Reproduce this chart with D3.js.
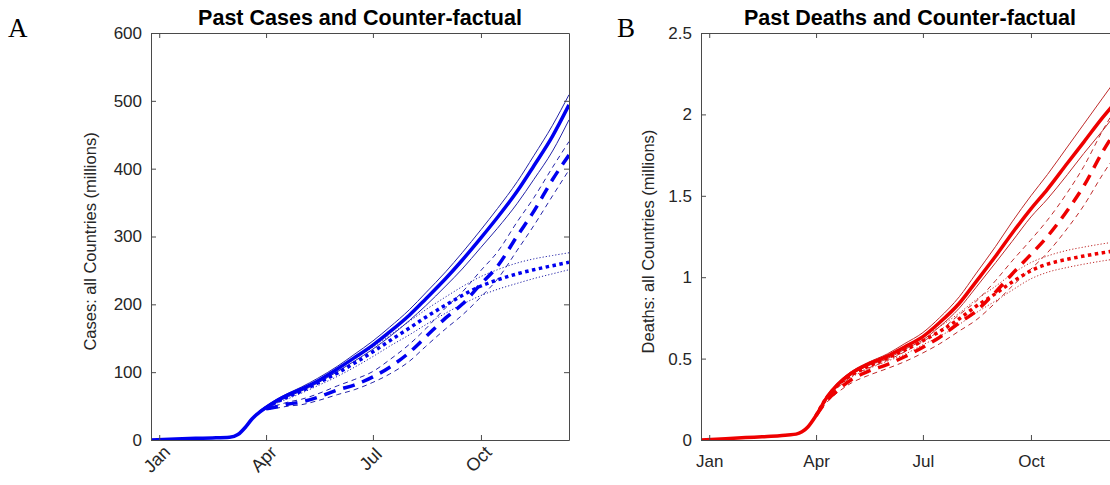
<!DOCTYPE html>
<html><head><meta charset="utf-8">
<script src="https://cdn.jsdelivr.net/npm/d3@7"></script>
<style>
body{margin:0;background:#fff;}
svg{display:block;font-family:"Liberation Sans",Arial,sans-serif;}
</style></head><body>
<svg id="chart" width="1110" height="485"></svg>
<script>
// ---------- data ----------
const dates = ["2019-12-25","2020-01-15","2020-02-01","2020-02-15","2020-03-01","2020-03-08","2020-03-15","2020-03-20","2020-03-25",
  "2020-04-01","2020-04-10","2020-04-20","2020-05-01","2020-05-15","2020-06-01","2020-06-15","2020-07-01","2020-07-15",
  "2020-08-01","2020-08-15","2020-09-01","2020-09-15","2020-10-01","2020-10-15","2020-11-01","2020-11-15","2020-12-01","2020-12-15"];
const N9 = [null,null,null,null,null,null,null,null,null];

// Cases (millions)
const casesActual   = [0,1.5,2.5,3,4,8,20,31,39, 48,58,67,75,87,105,121,140,159,184,208,238,265,298,328,367,404,448,494];
const casesActualHi = [0,1.5,2.5,3,4,8,20,32,41, 50,60,69,78,91,109,126,146,166,192,217,248,276,310,341,381,419,464,509];
const casesActualLo = [0,1.5,2.5,3,4,8,20,30,38, 46,55,64,72,84,101,116,134,152,176,198,227,252,284,312,349,384,426,472];
const casesCF1      = N9.concat([46,49,53,56,63,74,81,93,107,129,152,180,200,230,256,301,337,384,420]);
const casesCF1Hi    = N9.concat([47,51,56,60,68,80,89,101,118,141,164,195,218,250,277,322,357,402,440]);
const casesCF1Lo    = N9.concat([45,47,50,52,58,67,74,85,97,116,138,164,184,211,237,280,316,360,398]);
const casesCF2      = N9.concat([47,56,64,72,84,99,113,130,146,165,181,199,213,227,236,245,251,257,262]);
const casesCF2Hi    = N9.concat([48,58,67,75,88,104,119,137,154,175,192,211,226,241,251,261,267,272,276]);
const casesCF2Lo    = N9.concat([46,54,61,69,80,94,107,123,138,155,170,187,200,213,222,231,238,245,251]);

// Deaths (millions)
const deathsActual   = [0,0.008,0.015,0.02,0.026,0.031,0.036,0.05,0.08, 0.15,0.26,0.345,0.41,0.465,0.515,0.57,0.635,0.72,0.84,0.97,1.13,1.27,1.42,1.54,1.70,1.83,1.98,2.10];
const deathsActualHi = [0,0.008,0.015,0.02,0.026,0.031,0.036,0.05,0.085, 0.16,0.27,0.355,0.42,0.475,0.53,0.59,0.66,0.75,0.88,1.02,1.19,1.34,1.50,1.63,1.80,1.94,2.10,2.24];
const deathsActualLo = [0,0.008,0.015,0.02,0.026,0.031,0.036,0.05,0.078, 0.145,0.25,0.335,0.40,0.455,0.50,0.555,0.615,0.695,0.81,0.935,1.09,1.22,1.37,1.48,1.63,1.76,1.90,2.03];
const deathsCF1      = N9.concat([0.15,0.24,0.31,0.37,0.42,0.465,0.51,0.57,0.63,0.72,0.79,0.91,1.02,1.14,1.25,1.41,1.56,1.77,1.93]);
const deathsCF1Hi    = N9.concat([0.15,0.25,0.325,0.39,0.44,0.49,0.54,0.605,0.67,0.77,0.85,0.98,1.10,1.23,1.35,1.52,1.68,1.90,2.07]);
const deathsCF1Lo    = N9.concat([0.145,0.23,0.295,0.35,0.395,0.44,0.48,0.535,0.59,0.67,0.735,0.845,0.945,1.05,1.15,1.30,1.44,1.63,1.78]);
const deathsCF2      = N9.concat([0.15,0.26,0.34,0.40,0.45,0.505,0.55,0.61,0.665,0.745,0.82,0.90,0.97,1.04,1.08,1.11,1.13,1.15,1.165]);
const deathsCF2Hi    = N9.concat([0.155,0.27,0.35,0.415,0.465,0.525,0.575,0.635,0.695,0.78,0.86,0.945,1.02,1.09,1.13,1.165,1.185,1.205,1.22]);
const deathsCF2Lo    = N9.concat([0.145,0.25,0.33,0.385,0.435,0.485,0.525,0.585,0.635,0.71,0.78,0.855,0.92,0.99,1.03,1.06,1.08,1.10,1.115]);

const xTickDates = ["2020-01-01","2020-04-01","2020-07-01","2020-10-01"];
const xTickLabels = ["Jan","Apr","Jul","Oct"];
const casesTicks = [0,100,200,300,400,500,600];
const deathsTicks = [0,0.5,1,1.5,2,2.5];
const xDomain = ["2019-12-25","2020-12-15"];

// ---------- drawing ----------
const parse = d3.utcParse("%Y-%m-%d");
const dts = dates.map(parse);
const svg = d3.select("#chart");
svg.append("rect").attr("width",1110).attr("height",485).attr("fill","#fff");

const axisCol = "#4a4a4a", textCol = "#262626";

function panel(opt){
  const {left, right, top, bottom} = opt;
  const x = d3.scaleUtc().domain(xDomain.map(parse)).range([left, right]);
  const y = d3.scaleLinear().domain([0, opt.ymax]).range([bottom, top]);
  const g = svg.append("g");

  const line = d3.line().defined(d => d[1] != null).x(d => x(d[0])).y(d => y(d[1])).curve(d3.curveMonotoneX);
  const clipId = "clip" + opt.id;
  svg.append("clipPath").attr("id", clipId).append("rect")
     .attr("x", left).attr("y", top).attr("width", right-left).attr("height", bottom-top);
  const sg = g.append("g").attr("clip-path", `url(#${clipId})`);
  opt.series.forEach(s => {
    sg.append("path")
      .datum(dts.map((d,i) => [d, s.v[i]]))
      .attr("fill","none")
      .attr("stroke", s.thin ? opt.thinColor : opt.color)
      .attr("stroke-width", s.w)
      .attr("stroke-dasharray", s.dash || null)
      .attr("stroke-linecap","butt")
      .attr("stroke-linejoin","round")
      .attr("d", line);
  });

  const xt = xTickDates.map(parse);
  const fmt = (d) => xTickLabels[xt.findIndex(t => +t === +d)];
  const ax = g.append("g").attr("transform",`translate(0,${bottom})`)
    .call(d3.axisBottom(x).tickValues(xt).tickFormat(fmt).tickSizeInner(-5).tickSizeOuter(0).tickPadding(12));
  g.append("g").attr("transform",`translate(0,${top})`)
    .call(d3.axisTop(x).tickValues(xt).tickFormat("").tickSizeInner(-5).tickSizeOuter(0));
  g.append("g").attr("transform",`translate(${left},0)`)
    .call(d3.axisLeft(y).tickValues(opt.yticks).tickFormat(d3.format("~g")).tickSizeInner(-5).tickSizeOuter(0).tickPadding(9));
  g.append("g").attr("transform",`translate(${right},0)`)
    .call(d3.axisRight(y).tickValues(opt.yticks).tickFormat("").tickSizeInner(-5).tickSizeOuter(0));
  g.selectAll(".domain").attr("stroke", axisCol);
  g.selectAll(".tick line").attr("stroke", axisCol);
  g.selectAll(".tick text").attr("fill", textCol).style("font-size","17px").style("font-family","'Liberation Sans',Arial,sans-serif");
  if (opt.rotate) {
    ax.selectAll(".tick text")
      .attr("text-anchor","middle").attr("x",0).attr("y",0).attr("dy","0.35em")
      .attr("transform","translate(-3,19) rotate(-45)")
      .style("font-size","18px");
  } else {
    ax.selectAll(".tick text").attr("dy","0.9em");
  }

  svg.append("text").attr("x",(left+right)/2).attr("y",25)
    .attr("text-anchor","middle").attr("font-weight","bold").attr("font-size",21.5).attr("fill","#000")
    .text(opt.title);
  svg.append("text").attr("transform",`translate(${opt.ylabX},${(top+bottom)/2 + 5}) rotate(-90)`)
    .attr("text-anchor","middle").attr("font-size",16.5).attr("fill",textCol).text(opt.ylabel);
  svg.append("text").attr("x",opt.letterX).attr("y",37)
    .attr("font-family","'Liberation Serif','Times New Roman',serif").attr("font-size",27).attr("fill","#000")
    .text(opt.letter);
}

function seriesSet(a, aHi, aLo, c1, c1Hi, c1Lo, c2, c2Hi, c2Lo){
  return [
    {v:aHi, w:1, thin:true}, {v:aLo, w:1, thin:true},
    {v:c1Hi, w:1, thin:true, dash:"5,4"}, {v:c1Lo, w:1, thin:true, dash:"5,4"},
    {v:c2Hi, w:1, thin:true, dash:"1.2,2"}, {v:c2Lo, w:1, thin:true, dash:"1.2,2"},
    {v:a, w:3.5},
    {v:c1, w:3.5, dash:"12,8"},
    {v:c2, w:3.5, dash:"3.5,3.5"}
  ];
}

panel({id:"A", left:151, right:569, top:33, bottom:440, ymax:600, yticks:casesTicks,
  color:"#0000f0", thinColor:"#2424a8", rotate:true,
  title:"Past Cases and Counter-factual", ylabel:"Cases: all Countries (millions)", ylabX:96, letter:"A", letterX:8,
  series: seriesSet(casesActual,casesActualHi,casesActualLo,casesCF1,casesCF1Hi,casesCF1Lo,casesCF2,casesCF2Hi,casesCF2Lo)});

panel({id:"B", left:701, right:1119, top:33, bottom:440, ymax:2.5, yticks:deathsTicks,
  color:"#ee0000", thinColor:"#bf2a2a", rotate:false,
  title:"Past Deaths and Counter-factual", ylabel:"Deaths: all Countries (millions)", ylabX:654, letter:"B", letterX:617,
  series: seriesSet(deathsActual,deathsActualHi,deathsActualLo,deathsCF1,deathsCF1Hi,deathsCF1Lo,deathsCF2,deathsCF2Hi,deathsCF2Lo)});
</script>
</body></html>
